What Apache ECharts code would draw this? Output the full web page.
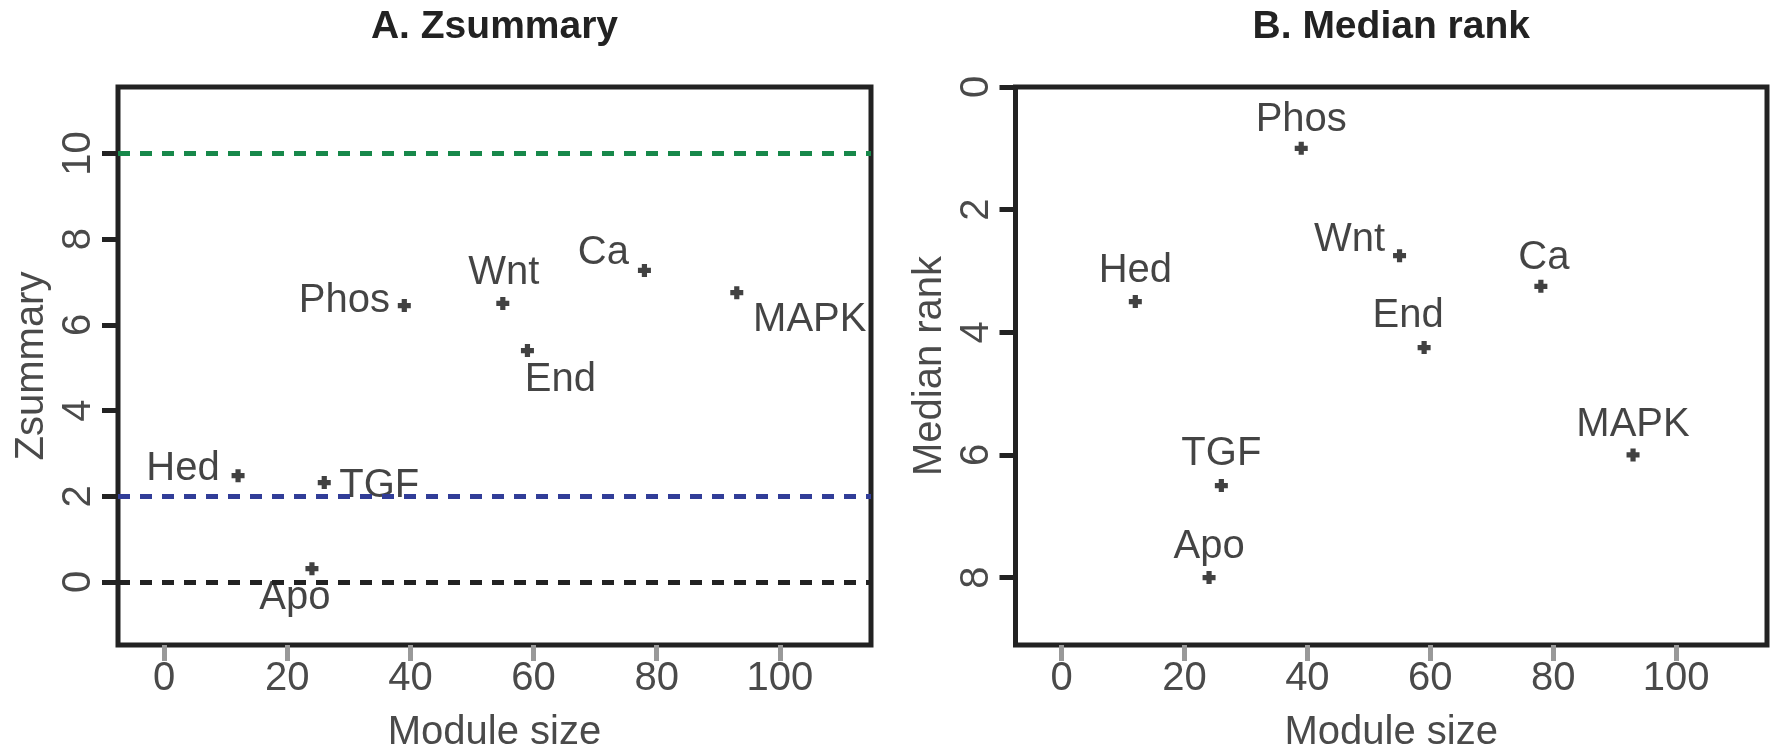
<!DOCTYPE html>
<html>
<head>
<meta charset="utf-8">
<script src="https://cdn.jsdelivr.net/npm/echarts@6/dist/echarts.min.js"></script>
<style>
html,body{margin:0;padding:0;background:#fff;}
#chart{width:1771px;height:747px;}
</style>
</head>
<body>
<div id="chart"></div>
<script>
// ---- data ----
const categories = ['Hed', 'Apo', 'TGF', 'Phos', 'Wnt', 'End', 'Ca', 'MAPK'];
const moduleSize = [12, 24, 26, 39, 55, 59, 78, 93];
const zsummary = [2.48, 0.31, 2.32, 6.45, 6.5, 5.4, 7.27, 6.75];
const medianRank = [3.5, 8, 6.5, 1, 2.75, 4.25, 3.25, 6];
const xTicks = [0, 20, 40, 60, 80, 100];
const zTicks = [0, 2, 4, 6, 8, 10];
const rankTicks = [0, 2, 4, 6, 8];
const zThresholds = [10, 2, 0];
const titles = ['A. Zsummary', 'B. Median rank'];
const xName = 'Module size';
const yNames = ['Zsummary', 'Median rank'];

// ---- layout / style (label offsets relative to each point) ----
const labelOffsetA = [[-55, -7], [-17, 29], [55, 3], [-60, -5], [1, -30], [33, 29], [-41, -17], [73, 27]];
const labelOffsetB = [[0, -31], [0, -31], [0, -32], [0, -28], [-50, -16], [-16, -32], [3, -28], [0, -30]];
const thresholdColors = ['#17884a', '#313d98', '#222222'];

const FONT = 'Liberation Sans, Arial, Helvetica, sans-serif';
const chart = echarts.init(document.getElementById('chart'), null, {renderer: 'canvas'});

const gridA = {left: 118, top: 87, width: 753, height: 558};
const gridB = {left: 1015.5, top: 87, width: 751.5, height: 558};

function gridCfg(g) {
  return Object.assign({
    show: true, borderColor: '#222', borderWidth: 5,
    backgroundColor: 'transparent', outerBoundsMode: 'none', containLabel: false
  }, g);
}

function xAxisCfg(idx) {
  return {
    type: 'value', gridIndex: idx, min: -7.5, max: 114.8, position: 'bottom',
    axisLine: {show: false, onZero: false}, splitLine: {show: false},
    axisTick: {show: true, customValues: xTicks, length: 16, lineStyle: {color: '#999', width: 5}},
    axisLabel: {show: true, customValues: xTicks, fontSize: 40, fontFamily: FONT, color: '#4a4a4a', margin: 14},
    name: xName, nameLocation: 'middle', nameGap: 68,
    nameTextStyle: {fontSize: 40, fontFamily: FONT, color: '#4a4a4a'}
  };
}

function yAxisCfg(idx, min, max, ticks, inverse, name) {
  return {
    type: 'value', gridIndex: idx, min: min, max: max, inverse: inverse, position: 'left',
    axisLine: {show: false, onZero: false}, splitLine: {show: false},
    axisTick: {show: true, customValues: ticks, length: 16, lineStyle: {color: '#222', width: 5}},
    axisLabel: {show: true, customValues: ticks, fontSize: 40, fontFamily: FONT, color: '#4a4a4a', margin: 19, rotate: 90, lineHeight: 40},
    name: name, nameLocation: 'middle', nameGap: 66,
    nameTextStyle: {fontSize: 40, fontFamily: FONT, color: '#4a4a4a'}
  };
}

const plusSymbol = 'path://M3,0h4v3h3v4h-3v3h-4v-3h-3v-4h3z';

function pointData(yVals, offsets) {
  return categories.map((c, i) => ({
    name: c,
    value: [moduleSize[i], yVals[i]],
    label: {offset: offsets[i]}
  }));
}

const labelStyle = {
  show: true, position: 'inside', formatter: '{b}',
  fontSize: 40, fontFamily: FONT, color: '#151515', lineHeight: 40,
  textBorderWidth: 0
};

const option = {
  animation: false,
  backgroundColor: '#fff',
  grid: [gridCfg(gridA), gridCfg(gridB)],
  xAxis: [xAxisCfg(0), xAxisCfg(1)],
  yAxis: [
    yAxisCfg(0, -1.47, 11.55, zTicks, false, yNames[0]),
    yAxisCfg(1, 0, 9.1, rankTicks, true, yNames[1])
  ],
  graphic: [
    {type: 'text', x: gridA.left + gridA.width / 2, y: 27,
     style: {text: titles[0], font: 'bold 39px ' + FONT, fill: '#222', align: 'center', verticalAlign: 'middle'}},
    {type: 'text', x: gridB.left + gridB.width / 2, y: 27,
     style: {text: titles[1], font: 'bold 39px ' + FONT, fill: '#222', align: 'center', verticalAlign: 'middle'}}
  ],
  series: [
    {
      type: 'scatter', xAxisIndex: 0, yAxisIndex: 0,
      symbol: plusSymbol, symbolSize: 13,
      itemStyle: {color: '#111'},
      label: labelStyle,
      data: pointData(zsummary, labelOffsetA),
      markLine: {
        silent: true, symbol: 'none', label: {show: false},
        data: zThresholds.map((v, i) => ({
          yAxis: v,
          lineStyle: {color: thresholdColors[i], width: 5, type: [12, 10]}
        }))
      },
      z: 3
    },
    {
      type: 'scatter', xAxisIndex: 1, yAxisIndex: 1,
      symbol: plusSymbol, symbolSize: 13,
      itemStyle: {color: '#111'},
      label: labelStyle,
      data: pointData(medianRank, labelOffsetB),
      z: 3
    }
  ]
};
chart.setOption(option);
</script>
</body>
</html>
